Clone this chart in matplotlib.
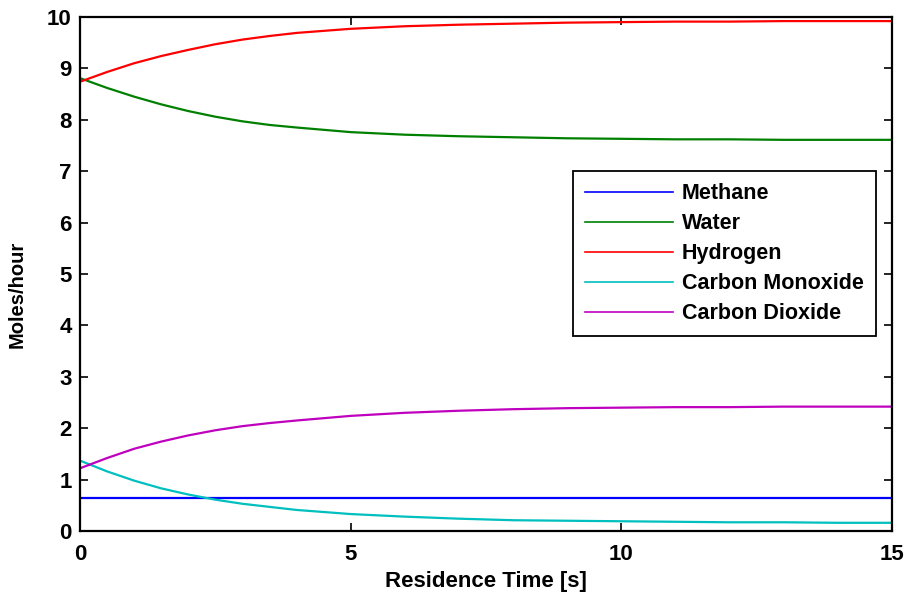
import numpy as np
import matplotlib
matplotlib.use("Agg")
import matplotlib.pyplot as plt

# residence time [s] and molar flows
t = [0, 0.5, 1, 1.5, 2, 2.5, 3, 3.5, 4, 5, 6, 7, 8, 9, 10, 11, 12, 13, 14, 15]
methane = [0.65] * len(t)
water = [8.81, 8.62, 8.45, 8.30, 8.17, 8.06, 7.97, 7.90, 7.85, 7.76,
         7.71, 7.68, 7.66, 7.64, 7.63, 7.62, 7.62, 7.61, 7.61, 7.61]
hydrogen = [8.74, 8.93, 9.10, 9.24, 9.36, 9.47, 9.56, 9.63, 9.69, 9.77,
            9.82, 9.85, 9.87, 9.89, 9.90, 9.91, 9.91, 9.92, 9.92, 9.92]
co = [1.37, 1.16, 0.98, 0.83, 0.71, 0.61, 0.53, 0.47, 0.41, 0.33,
      0.28, 0.24, 0.21, 0.20, 0.19, 0.18, 0.17, 0.17, 0.16, 0.16]
co2 = [1.22, 1.42, 1.60, 1.74, 1.86, 1.96, 2.04, 2.10, 2.15, 2.24,
       2.30, 2.34, 2.37, 2.39, 2.40, 2.41, 2.41, 2.42, 2.42, 2.42]

names = ['Methane', 'Water', 'Hydrogen', 'Carbon Monoxide', 'Carbon Dioxide']
colores = ['#0000ff', '#008000', '#ff0000', '#00bfbf', '#bf00bf']

plt.rcParams['font.family'] = ['Liberation Sans', 'DejaVu Sans']
plt.rcParams['font.weight'] = 'bold'

fig = plt.figure(figsize=(9.07, 5.98), dpi=100)
ax = fig.add_axes([0.0882, 0.112, 0.8953, 0.8596])

for serie, nombre, c in zip([methane, water, hydrogen, co, co2], names, colores):
    ax.plot(t, serie, color=c, lw=1.6, label=nombre)

ax.set_xlim(0, 15)
ax.set_ylim(0, 10)
ax.set_xticks([0, 5, 10, 15])
ax.set_yticks(range(0, 11))
ax.tick_params(direction='in', length=6, width=1.2, top=True, right=True,
               labelsize=16)
ax.tick_params(axis='x', pad=9)
ax.tick_params(axis='y', pad=6)
for lab in ax.get_xticklabels() + ax.get_yticklabels():
    lab.set_fontweight('bold')
for s in ax.spines.values():
    s.set_linewidth(1.6)

ax.set_xlabel('Residence Time [s]', fontsize=16, fontweight='bold', labelpad=5)
ax.set_ylabel('Moles/hour', fontsize=14.5, fontweight='bold')
ax.yaxis.set_label_coords(-0.066, 0.46)

leg = ax.legend(loc='upper right', bbox_to_anchor=(0.98, 0.70), fontsize=15.5,
                handlelength=4.1, handletextpad=0.4, labelspacing=0.42,
                borderpad=0.55, borderaxespad=0, fancybox=False, framealpha=1)
leg.get_frame().set_edgecolor('black')
leg.get_frame().set_linewidth(1.3)
for h in leg.get_lines():
    h.set_linewidth(1.2)

fig.savefig('out.png', dpi=100)
